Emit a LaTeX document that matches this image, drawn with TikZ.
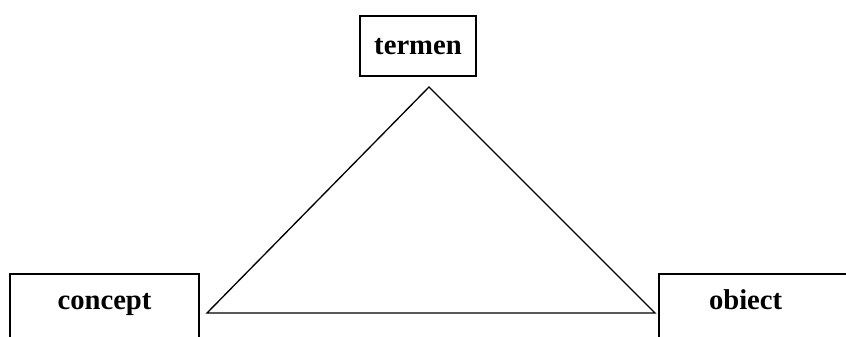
\documentclass[tikz,border=0pt]{standalone}
\usepackage{fontspec}
\setmainfont{Liberation Serif}
\usepackage{tikz}

\begin{document}
\begin{tikzpicture}[x=0.75pt,y=-0.75pt,line cap=round,
    termbox/.style={draw,line width=1.5pt,inner ysep=0pt,
      font=\bfseries\fontsize{21.5}{24}\selectfont},
    side/.style={line width=1pt,line join=miter}]
  % ---------------- frame: the lower boxes run past the edge ----------------
  \clip (0,0) rectangle (846,336);

  % ---------------- the three terms ----------------
  \node[termbox,anchor=north,inner xsep=0pt,minimum width=87pt,
        text height=28.5pt,text depth=16.5pt] (termen) at (418,15) {termen};
  \node[termbox,anchor=north,inner xsep=0pt,minimum width=141.75pt,
        text height=26.25pt,text depth=37.5pt] (concept) at (104.5,273) {concept};
  \node[termbox,anchor=north west,inner xsep=37.5pt,text width=150pt,align=left,
        text height=26.25pt,text depth=37.5pt] (obiect) at (658,273) {obiect};

  % ---------------- semiotic triangle ----------------
  \coordinate (top)   at (429,87);
  \coordinate (left)  at (207,313);
  \coordinate (right) at (655,313);
  \draw[side] (top) -- (left) -- (right) -- cycle;
\end{tikzpicture}
\end{document}
